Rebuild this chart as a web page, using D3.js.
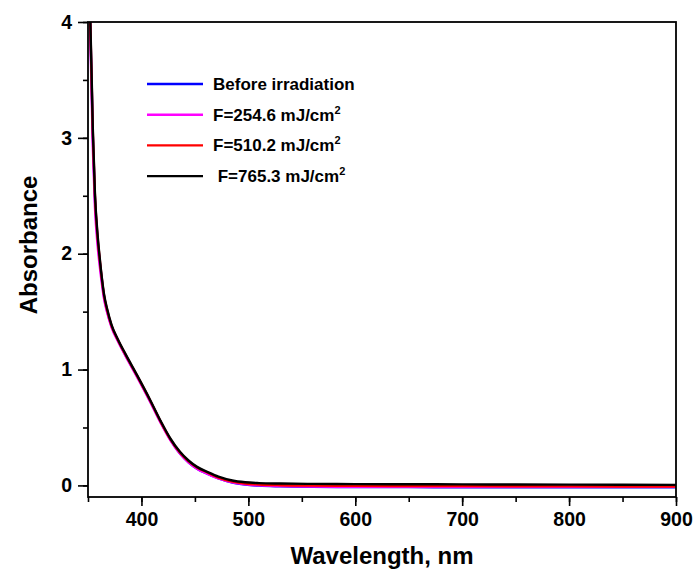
<!doctype html>
<html lang="en">
  <head>
    <meta charset="utf-8">
    <title>Absorbance spectra</title>
    <script src="https://d3js.org/d3.v7.min.js"></script>
    <style>
      body { margin: 0; background: #fff; }
      text { font-family: Arial, "Liberation Sans", sans-serif; font-weight: bold; fill: #000; }
    </style>
  </head>

  <body>
    <svg width="697" height="576"></svg>

    <script>
      // wavelengths, nm
      var wavelength = [350, 352, 354.5, 356.5, 359, 361, 363, 365, 368, 372, 378, 385, 396, 408, 418, 427, 436, 444, 452, 462, 472, 485, 497, 510, 530, 560, 600, 650, 700, 750, 800, 850, 900];

      // absorbance
      var before = [4.35, 4.02, 3.02, 2.47, 2.12, 1.93, 1.77, 1.63, 1.50, 1.375, 1.25, 1.125, 0.94, 0.73, 0.545, 0.395, 0.275, 0.20, 0.145, 0.10, 0.06, 0.025, 0.008, -0.002, -0.008, -0.012, -0.014, -0.015, -0.016, -0.016, -0.016, -0.017, -0.017];
      var f254 = [4.30, 3.95, 2.92, 2.40, 2.07, 1.89, 1.74, 1.61, 1.49, 1.365, 1.245, 1.12, 0.935, 0.725, 0.54, 0.39, 0.275, 0.20, 0.145, 0.10, 0.06, 0.026, 0.009, 0.0, -0.006, -0.01, -0.012, -0.013, -0.013, -0.012, -0.012, -0.012, -0.012];
      var f510 = [4.38, 4.05, 3.05, 2.50, 2.14, 1.95, 1.78, 1.64, 1.51, 1.38, 1.255, 1.13, 0.945, 0.735, 0.55, 0.40, 0.285, 0.21, 0.155, 0.11, 0.068, 0.033, 0.016, 0.008, 0.002, -0.002, -0.004, -0.005, -0.006, -0.007, -0.008, -0.009, -0.01];
      var f765 = [4.40, 4.08, 3.08, 2.52, 2.16, 1.96, 1.79, 1.65, 1.52, 1.385, 1.26, 1.135, 0.95, 0.74, 0.555, 0.405, 0.29, 0.215, 0.16, 0.115, 0.075, 0.042, 0.027, 0.02, 0.016, 0.013, 0.011, 0.01, 0.009, 0.008, 0.007, 0.006, 0.005];

      var seriesNames = ["Before irradiation", "F=254.6 mJ/cm", "F=510.2 mJ/cm", " F=765.3 mJ/cm"];
      var seriesSup = ["", "2", "2", "2"];
      var seriesValues = [before, f254, f510, f765];
      var colors = ["#0000ff", "#ff00ff", "#ff0000", "#000000"];

      var xTicks = [400, 500, 600, 700, 800, 900];
      var yTicks = [0, 1, 2, 3, 4];

      var svg = d3.select('svg');
      var margin = {top: 22, right: 21, bottom: 79, left: 88};
      var width = 697 - margin.left - margin.right;
      var height = 576 - margin.top - margin.bottom;

      var g = svg.append('g').attr('transform', 'translate(' + margin.left + ',' + margin.top + ')');

      var x = d3.scaleLinear().domain([350, 900]).range([0, width]);
      var y = d3.scaleLinear().domain([-0.1, 4]).range([height, 0]);

      g.append('clipPath').attr('id', 'clip')
        .append('rect').attr('width', width).attr('height', height);

      var line = d3.line()
        .x(function(d){ return x(d[0]); })
        .y(function(d){ return y(d[1]); })
        .curve(d3.curveMonotoneX);

      g.append('g').attr('clip-path', 'url(#clip)')
        .selectAll('path')
        .data(seriesValues)
        .enter()
        .append('path')
          .attr('fill', 'none')
          .attr('stroke', function(d, i){ return colors[i]; })
          .attr('stroke-width', 2.4)
          .attr('stroke-linejoin', 'round')
          .attr('d', function(vals){
            return line(vals.map(function(v, j){ return [wavelength[j], v]; }));
          });

      // minor ticks
      var xMinor = d3.axisBottom(x).tickValues(d3.range(350, 901, 50)).tickSize(5).tickFormat('');
      var yMinor = d3.axisLeft(y).tickValues(d3.range(0, 4.01, 0.5)).tickSize(5).tickFormat('');
      g.append('g').attr('transform', 'translate(0,' + height + ')').call(xMinor);
      g.append('g').call(yMinor);

      var xAxis = d3.axisBottom(x).tickValues(xTicks).tickSize(9).tickPadding(6).tickFormat(d3.format('d'));
      var yAxis = d3.axisLeft(y).tickValues(yTicks).tickSize(10).tickPadding(6).tickFormat(d3.format('d'));

      g.append('g').attr('transform', 'translate(0,' + height + ')').call(xAxis);
      g.append('g').call(yAxis);

      svg.selectAll('.tick text').style('font-size', '19.5px');
      svg.selectAll('.domain').remove();
      svg.selectAll('.tick line').attr('stroke', '#000').attr('stroke-width', 1.6);

      // frame
      g.append('rect')
        .attr('width', width).attr('height', height)
        .attr('fill', 'none').attr('stroke', '#000').attr('stroke-width', 1.8);

      // axis titles
      svg.append('text')
        .attr('x', margin.left + width / 2).attr('y', 564)
        .attr('text-anchor', 'middle')
        .style('font-size', '24px')
        .text('Wavelength, nm');

      svg.append('text')
        .attr('transform', 'translate(37,245) rotate(-90)')
        .attr('text-anchor', 'middle')
        .style('font-size', '24px')
        .text('Absorbance');

      // legend
      var legend = svg.append('g').attr('transform', 'translate(147,84)');
      var items = legend.selectAll('g').data(seriesNames).enter().append('g')
        .attr('transform', function(d, i){ return 'translate(0,' + (i * 30.7) + ')'; });
      items.append('line')
        .attr('x1', 0).attr('x2', 56).attr('y1', 0).attr('y2', 0)
        .attr('stroke', function(d, i){ return colors[i]; })
        .attr('stroke-width', 2.4);
      var labels = items.append('text')
        .attr('x', 66).attr('y', 6)
        .style('font-size', '17px')
        .style('white-space', 'pre')
        .attr('xml:space', 'preserve');
      labels.append('tspan').text(function(d){ return d; });
      labels.append('tspan')
        .attr('dy', -7)
        .style('font-size', '11px')
        .text(function(d, i){ return seriesSup[i]; });
    </script>
  </body>
</html>
